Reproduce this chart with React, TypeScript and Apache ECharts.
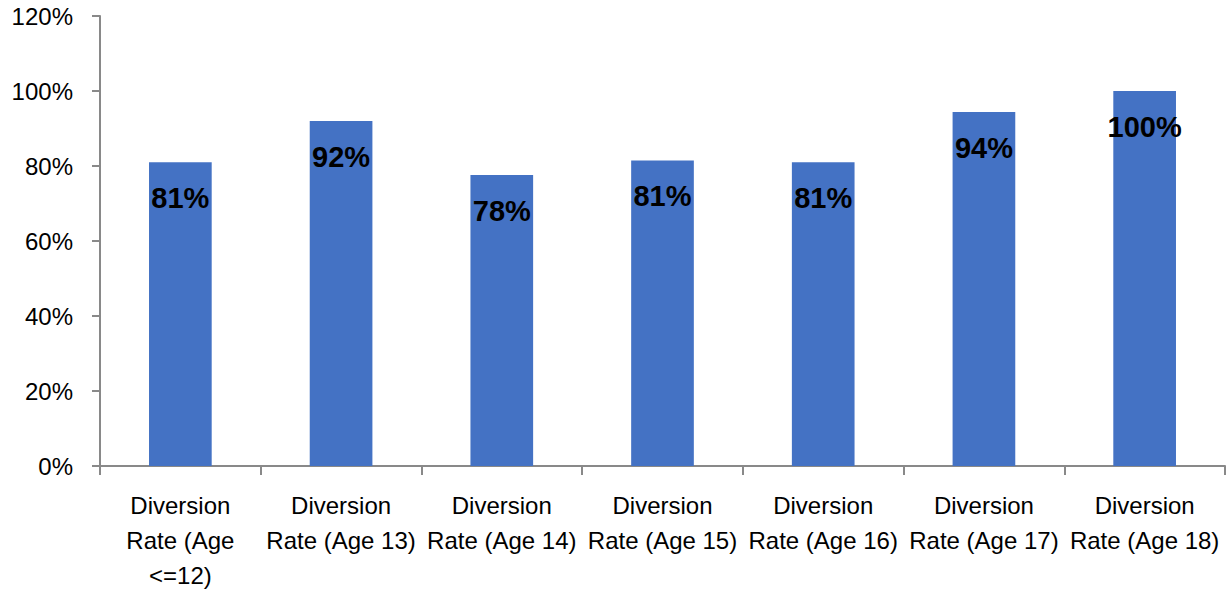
import React, { useEffect, useRef } from "react";
import * as echarts from "echarts";

const categories = [
  "Diversion\nRate (Age\n<=12)",
  "Diversion\nRate (Age 13)",
  "Diversion\nRate (Age 14)",
  "Diversion\nRate (Age 15)",
  "Diversion\nRate (Age 16)",
  "Diversion\nRate (Age 17)",
  "Diversion\nRate (Age 18)",
];
const rates = [81, 92, 77.6, 81.5, 81, 94.4, 100];
const rateLabels = ["81%", "92%", "78%", "81%", "81%", "94%", "100%"];

export default function App() {
  const ref = useRef<HTMLDivElement>(null);
  useEffect(() => {
    document.body.style.margin = "0";
    const chart = echarts.init(ref.current!, null, { renderer: "svg" });
    const font = "'Liberation Sans', Arial, sans-serif";
    chart.setOption({
      animation: false,
      textStyle: { fontFamily: font },
      grid: { left: 100, right: 3, top: 16, bottom: 129, containLabel: false },
      xAxis: {
        type: "category",
        data: categories,
        axisLine: { show: true, lineStyle: { color: "#898989", width: 2 } },
        axisTick: { show: true, alignWithLabel: false, length: 9, lineStyle: { color: "#898989", width: 2 } },
        axisLabel: {
          interval: 0,
          color: "#000",
          fontSize: 24,
          lineHeight: 35,
          margin: 22,
          fontFamily: font,
        },
      },
      yAxis: {
        type: "value",
        min: 0,
        max: 120,
        interval: 20,
        splitLine: { show: false },
        axisLine: { show: true, lineStyle: { color: "#898989", width: 2 } },
        axisTick: { show: true, length: 8, lineStyle: { color: "#898989", width: 2 } },
        axisLabel: {
          color: "#000",
          fontSize: 24,
          margin: 27,
          formatter: "{value}%",
          fontFamily: font,
        },
      },
      series: [
        {
          type: "bar",
          data: rates,
          barWidth: "39%",
          itemStyle: { color: "#4472C4" },
          label: {
            show: true,
            position: "insideTop",
            distance: 21,
            color: "#000",
            fontWeight: "bold",
            fontSize: 29,
            fontFamily: font,
            formatter: (p: any) => rateLabels[p.dataIndex],
          },
        },
      ],
    });
    return () => chart.dispose();
  }, []);
  return <div ref={ref} style={{ width: 1228, height: 595 }} />;
}
